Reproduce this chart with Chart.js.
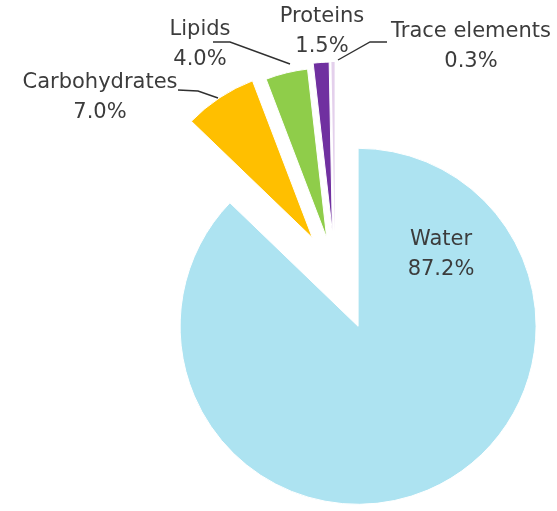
<!DOCTYPE html>
<html>
<head>
<meta charset="utf-8">
<script src="https://cdn.jsdelivr.net/npm/chart.js@4/dist/chart.umd.min.js"></script>
<style>
  html, body { margin: 0; padding: 0; background: #ffffff; }
  #wrap { width: 557px; height: 511px; }
</style>
</head>
<body>
<div id="wrap"><canvas id="pie" width="557" height="511"></canvas></div>
<script>
// Composition shares (%)
const components = ['Water', 'Carbohydrates', 'Lipids', 'Proteins', 'Trace elements'];
const shares = [87.2, 7.0, 4.0, 1.5, 0.3];

// Slice styling
const sliceColors = ['#ade3f1', '#ffbf00', '#8fcd4a', '#7030a0', '#e4d0ec'];
const sliceBorders = [1, 1, 1, 1, 0];
const sliceShift = [59, 41, 35, 40, 40];       // explode distance, px
const sliceRadius = [178, 168, 170, 170, 170]; // drawn radius, px

// Label placement: centre x, first baseline
const labelPos = [
  [441, 245],
  [100, 88],
  [200, 35],
  [322, 22],
  [471, 37]
];
// Leader lines (polylines) per slice; null = none
const leaders = [
  null,
  [[178, 90], [198, 91], [218, 98]],
  [[213, 42], [230, 42], [290, 64]],
  null,
  [[387, 42], [370, 42], [338, 60]]
];

// Explode each slice along its own bisector and give it its own radius.
// Done on the arc elements so the wedge angles stay exactly as computed.
const explodePlugin = {
  id: 'explode',
  beforeDatasetsDraw(chart) {
    const area = chart.chartArea;
    const cx = (area.left + area.right) / 2;
    const cy = (area.top + area.bottom) / 2;
    chart.getDatasetMeta(0).data.forEach((arc, i) => {
      const mid = (arc.startAngle + arc.endAngle) / 2;
      arc.x = cx + Math.cos(mid) * sliceShift[i];
      arc.y = cy + Math.sin(mid) * sliceShift[i];
      arc.outerRadius = sliceRadius[i];
    });
  }
};

// Category name + percentage, with leader lines
const sliceLabelPlugin = {
  id: 'sliceLabels',
  afterDatasetsDraw(chart) {
    const ctx = chart.ctx;
    ctx.save();
    ctx.strokeStyle = '#303030';
    ctx.lineWidth = 1.4;
    leaders.forEach(pts => {
      if (!pts) return;
      ctx.beginPath();
      ctx.moveTo(pts[0][0], pts[0][1]);
      for (let k = 1; k < pts.length; k++) ctx.lineTo(pts[k][0], pts[k][1]);
      ctx.stroke();
    });
    ctx.font = '21px "DejaVu Sans", sans-serif';
    ctx.fillStyle = '#3c3c3c';
    ctx.textAlign = 'center';
    ctx.textBaseline = 'alphabetic';
    const values = chart.data.datasets[0].data;
    chart.data.labels.forEach((name, i) => {
      const [x, y] = labelPos[i];
      ctx.fillText(name, x, y);
      ctx.fillText(values[i].toFixed(1) + '%', x, y + 30);
    });
    ctx.restore();
  }
};

new Chart(document.getElementById('pie'), {
  type: 'pie',
  data: {
    labels: components,
    datasets: [{
      data: shares,
      backgroundColor: sliceColors,
      borderColor: '#ffffff',
      borderWidth: sliceBorders
    }]
  },
  options: {
    responsive: false,
    animation: false,
    events: [],
    radius: 170,
    layout: { padding: { left: 113, right: 0, top: 33, bottom: 0 } },
    plugins: {
      legend: { display: false },
      tooltip: { enabled: false },
      title: { display: false }
    }
  },
  plugins: [explodePlugin, sliceLabelPlugin]
});
</script>
</body>
</html>
